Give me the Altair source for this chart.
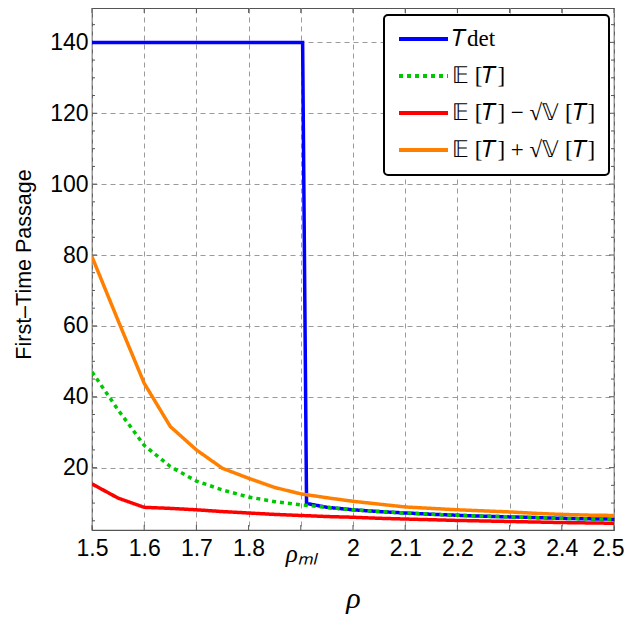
import altair as alt
import pandas as pd

# ---- data ----
rho = [1.5, 1.55, 1.6, 1.65, 1.7, 1.75, 1.8, 1.85, 1.9, 1.95, 2.0,
       2.05, 2.1, 2.15, 2.2, 2.25, 2.3, 2.35, 2.4, 2.45, 2.5]
mean_T = [47.0, 36.3, 26.3, 20.3, 16.2, 13.7, 11.7, 10.4, 9.5, 8.8, 8.1,
          7.6, 7.2, 6.85, 6.55, 6.3, 6.1, 5.9, 5.7, 5.55, 5.45]
lower_T = [15.4, 11.4, 8.8, 8.5, 8.1, 7.6, 7.2, 6.8, 6.5, 6.2, 6.0,
           5.7, 5.5, 5.3, 5.1, 4.95, 4.8, 4.65, 4.5, 4.4, 4.3]
upper_T = [79.5, 61.5, 43.8, 31.6, 25.0, 19.8, 17.0, 14.4, 12.6, 11.5, 10.5,
           9.7, 8.9, 8.5, 8.1, 7.8, 7.5, 7.1, 6.8, 6.6, 6.5]
rho_det = [1.5, 1.9035, 1.911, 1.95, 2.0, 2.05, 2.1, 2.15, 2.2, 2.25,
           2.3, 2.35, 2.4, 2.45, 2.5]
t_det = [140.0, 140.0, 9.9, 8.8, 8.1, 7.6, 7.2, 6.85, 6.55, 6.3,
         6.1, 5.9, 5.7, 5.55, 5.45]

series_names = ["𝑇det", "𝔼 [𝑇]", "𝔼 [𝑇] − √𝕍 [𝑇]", "𝔼 [𝑇] + √𝕍 [𝑇]"]
series_colors = ["#0000FF", "#00C800", "#FF0000", "#FF8000"]
series_dash = [[1, 0], [4, 4], [1, 0], [1, 0]]

x_ticks = [1.5, 1.6, 1.7, 1.8, 1.9, 2.0, 2.1, 2.2, 2.3, 2.4, 2.5]
y_major = [20, 40, 60, 80, 100, 120, 140]
y_minor = [5, 10, 15, 25, 30, 35, 45, 50, 55, 65, 70, 75, 85, 90, 95,
           105, 110, 115, 125, 130, 135, 145]

# ---- tables ----
rows = []
for xs_, ys_, name in [(rho_det, t_det, series_names[0]),
                       (rho, mean_T, series_names[1]),
                       (rho, lower_T, series_names[2]),
                       (rho, upper_T, series_names[3])]:
    for i, (a, b) in enumerate(zip(xs_, ys_)):
        rows.append({"rho": a, "value": b, "series": name, "ord": i})
df = pd.DataFrame(rows)

W, H = 522, 522
xs = alt.Scale(domain=[1.5, 2.5], nice=False, zero=False)
ys = alt.Scale(domain=[2.4, 149.7], nice=False, zero=False)

is_ml = "abs(datum.value - 1.9) < 0.001"

x_axis = alt.Axis(
    values=x_ticks,
    labelExpr=f"{is_ml} ? 'ρₘₗ' : format(datum.value, '.2~f')",
    grid=True, gridDash=[5, 4], gridColor="#9a9a9a", gridWidth=1,
    ticks=False, domain=False,
    labelFont={"condition": {"test": is_ml, "value": "Liberation Serif"}, "value": "Liberation Sans"},
    labelFontStyle={"condition": {"test": is_ml, "value": "italic"}, "value": "normal"},
    labelFontSize={"condition": {"test": is_ml, "value": 25}, "value": 23},
    labelPadding={"condition": {"test": is_ml, "value": 11}, "value": 7},
    labelOffset={"condition": {"test": "datum.value > 2.45", "value": -6}, "value": 0},
    labelColor="black", labelFlush=False, labelOverlap=False,
    title="ρ", titleFont="Liberation Serif", titleFontStyle="italic",
    titleFontSize=30, titleFontWeight="normal", titleColor="black",
    titleX=261, titleY=68, titleAlign="center", titleBaseline="middle",
)
y_axis = alt.Axis(
    values=y_major,
    grid=True, gridDash=[5, 4], gridColor="#9a9a9a", gridWidth=1,
    ticks=False, domain=False,
    labelFont="Liberation Sans", labelFontSize=23, labelPadding=4,
    labelColor="black",
    title="First–Time Passage", titleFont="Liberation Sans",
    titleFontSize=21.5, titleFontWeight="normal", titleColor="black",
    titleAngle=-90, titleX=-68, titleY=256, titleAlign="center",
    titleBaseline="middle",
)

legend = alt.Legend(
    orient="none", legendX=292, legendY=7,
    symbolType="stroke", symbolSize=2400, symbolStrokeWidth=4,
    clipHeight=22, rowPadding=14, labelOffset=2,
    labelFont="Liberation Serif", labelFontSize=23, labelColor="black",
    padding=13, strokeColor="black", cornerRadius=4,
    fillColor="white",
)

lines = alt.Chart(df).mark_line(strokeWidth=3.5, clip=True).encode(
    x=alt.X("rho:Q", scale=xs, axis=x_axis),
    y=alt.Y("value:Q", scale=ys, axis=y_axis),
    color=alt.Color("series:N", scale=alt.Scale(domain=series_names, range=series_colors),
                    legend=legend, title=None),
    strokeDash=alt.StrokeDash("series:N", scale=alt.Scale(domain=series_names, range=series_dash),
                              legend=legend, title=None),
    order="ord:Q",
)

xt = pd.DataFrame({"rho": x_ticks})
ymaj = pd.DataFrame({"value": y_major})
ymin = pd.DataFrame({"value": y_minor})
tc = "#555555"

def xtick(y0, y1):
    return alt.Chart(xt).mark_rule(color=tc, strokeWidth=1).encode(
        x=alt.X("rho:Q", scale=xs, axis=x_axis), y=alt.value(y0), y2=alt.value(y1))

def ytick(d, x0, x1):
    return alt.Chart(d).mark_rule(color=tc, strokeWidth=1).encode(
        y=alt.Y("value:Q", scale=ys, axis=y_axis), x=alt.value(x0), x2=alt.value(x1))

ticks = [xtick(H, H - 5), xtick(0, 5),
         ytick(ymaj, 0, 5), ytick(ymin, 0, 3),
         ytick(ymaj, W, W - 5), ytick(ymin, W, W - 3)]

chart = alt.layer(*ticks, lines).properties(
    width=W, height=H,
    autosize=alt.AutoSizeParams(type="none"),
    padding={"left": 84, "top": 0, "right": 10, "bottom": 89},
).configure_view(stroke="#555555", strokeWidth=1.2).configure_legend(strokeWidth=2)

chart.save("out.html", embed_options={"renderer": "svg", "actions": False})
